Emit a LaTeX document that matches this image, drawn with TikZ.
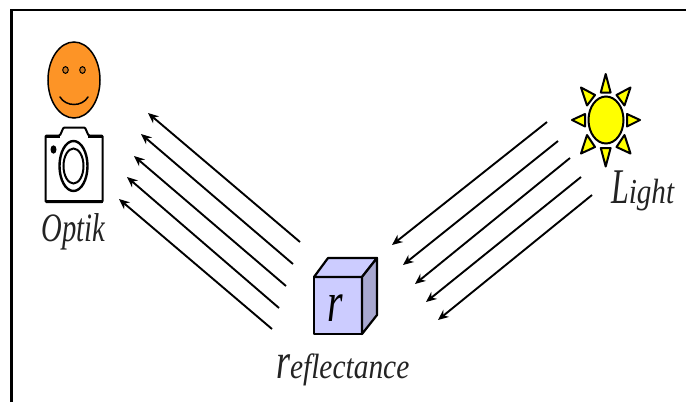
\documentclass[tikz,border=0pt]{standalone}
\usepackage{fontspec}
\setmainfont{Liberation Serif}
\usetikzlibrary{arrows.meta,shapes.geometric}
\definecolor{faceorange}{RGB}{253,148,38}
\definecolor{cubefront}{RGB}{204,204,255}
\definecolor{cubeside}{RGB}{168,168,208}
\definecolor{sunyellow}{RGB}{255,255,0}
\definecolor{labelgrey}{RGB}{35,35,35}
\tikzset{
  ray/.style={draw=black,line width=1.9pt,-{Stealth[length=10.5pt,width=9pt]}},
  outline/.style={draw=black,line width=2.2pt,line join=round},
  sunray/.style={draw=black,line width=2pt,fill=sunyellow,line join=round},
  lbl/.style={inner sep=0pt,outer sep=0pt,text=labelgrey,font=\itshape}
}
\begin{document}
\begin{tikzpicture}[x=1pt,y=-1pt]
\useasboundingbox (0,0) rectangle (686,402);
% frame
\coordinate (fbl) at (11.5,402);
\coordinate (ftl) at (11.5,10);
\coordinate (ftr) at (686,10);
\draw[line width=2.4pt,line join=miter] (fbl) -- (ftl) -- (ftr);
% face
\node (face) at (74,80) [ellipse,draw=black,line width=1.5pt,fill=faceorange,minimum width=52pt,minimum height=76pt,inner sep=0pt] {};
\draw[line width=1pt,fill=faceorange!80!black] (65.5,70) ellipse (2.8 and 3.4);
\draw[line width=1pt,fill=faceorange!80!black] (82.5,70) ellipse (2.8 and 3.4);
\draw[line width=1.5pt,line cap=round] (60,97) .. controls (66,107) and (82,107) .. (88,97);
% camera
\draw[line width=2pt,fill=white,rounded corners=1pt]
  (45.5,135.5) -- (60,135.5) -- (63.5,127.5) -- (85,127.5) -- (88.5,135.5) -- (102.5,135.5) -- (102.5,202) -- (45.5,202) -- cycle;
\draw[line width=3pt] (45.5,136.5) -- (60,136.5);
\draw[line width=3pt] (88,136.5) -- (102.5,136.5);
\draw[line width=3pt] (45.5,201) -- (102.5,201);
\draw[line width=2.4pt] (73.5,166) ellipse (14 and 25);
\draw[line width=2pt] (73.5,166) ellipse (10 and 17.5);
\fill (53.5,149.5) ellipse (3 and 4.2);
\node[lbl,anchor=base] (optik) at (73.5,241) {\fontsize{26}{26}\selectfont\scalebox{1.1}[1.55]{Optik}};
% sun
\node (sun) at (606,120) [ellipse,draw=black,line width=2pt,fill=sunyellow,minimum width=35pt,minimum height=47pt,inner sep=0pt] {};
\draw[sunray] (605.7,74) -- (600.8,92.5) -- (610.6,92.5) -- cycle;
\draw[sunray] (605.7,166.5) -- (600.8,148) -- (610.6,148) -- cycle;
\draw[sunray] (572,120) -- (585,114) -- (585,126.5) -- cycle;
\draw[sunray] (640,120) -- (627,114) -- (627,126.5) -- cycle;
\draw[sunray] (581,87.5) -- (595,95) -- (587,105.5) -- cycle;
\draw[sunray] (630.5,87.5) -- (616.5,95) -- (624.5,105.5) -- cycle;
\draw[sunray] (581,153.5) -- (587,135) -- (595,147) -- cycle;
\draw[sunray] (630.5,153.5) -- (624.5,135) -- (616.5,147) -- cycle;
\node[lbl,anchor=base west] (light) at (611,203) {\fontsize{39}{39}\selectfont\scalebox{.82}[1.28]{L}\fontsize{26}{26}\selectfont\scalebox{1.12}[1.35]{ight}};
% cube
\draw[outline,fill=cubefront] (314,277) -- (362,277) -- (362,334) -- (314,334) -- cycle;
\draw[outline,fill=cubefront] (314,277) -- (328,258) -- (377,258) -- (362,277) -- cycle;
\draw[outline,fill=cubeside] (362,277) -- (377,258) -- (377,315) -- (362,334) -- cycle;
\node[lbl,text=black,anchor=base] (rlet) at (335.5,321) {\fontsize{42}{42}\selectfont\scalebox{.95}[1.35]{r}};
\node[lbl,anchor=base west] (refl) at (276,378) {\fontsize{44}{44}\selectfont\scalebox{.82}[1.15]{r}\fontsize{27}{27}\selectfont\scalebox{1.09}[1.3]{eflectance}};
% coordinates of rays
\coordinate (a1) at (300,242); \coordinate (b1) at (148,113);
\coordinate (a2) at (293,264); \coordinate (b2) at (141,134);
\coordinate (a3) at (286,286); \coordinate (b3) at (134,156);
\coordinate (a4) at (279,308); \coordinate (b4) at (127,177);
\coordinate (a5) at (272,329); \coordinate (b5) at (119,199);
\coordinate (c1) at (547,122); \coordinate (d1) at (392,245);
\coordinate (c2) at (558,141); \coordinate (d2) at (403,265);
\coordinate (c3) at (570,158); \coordinate (d3) at (415,284);
\coordinate (c4) at (581,177); \coordinate (d4) at (426,302);
\coordinate (c5) at (592,195); \coordinate (d5) at (438,320);
\foreach \i in {1,...,5} {
  \draw[ray] (a\i) -- (b\i);
  \draw[ray] (c\i) -- (d\i);
}
\end{tikzpicture}
\end{document}
